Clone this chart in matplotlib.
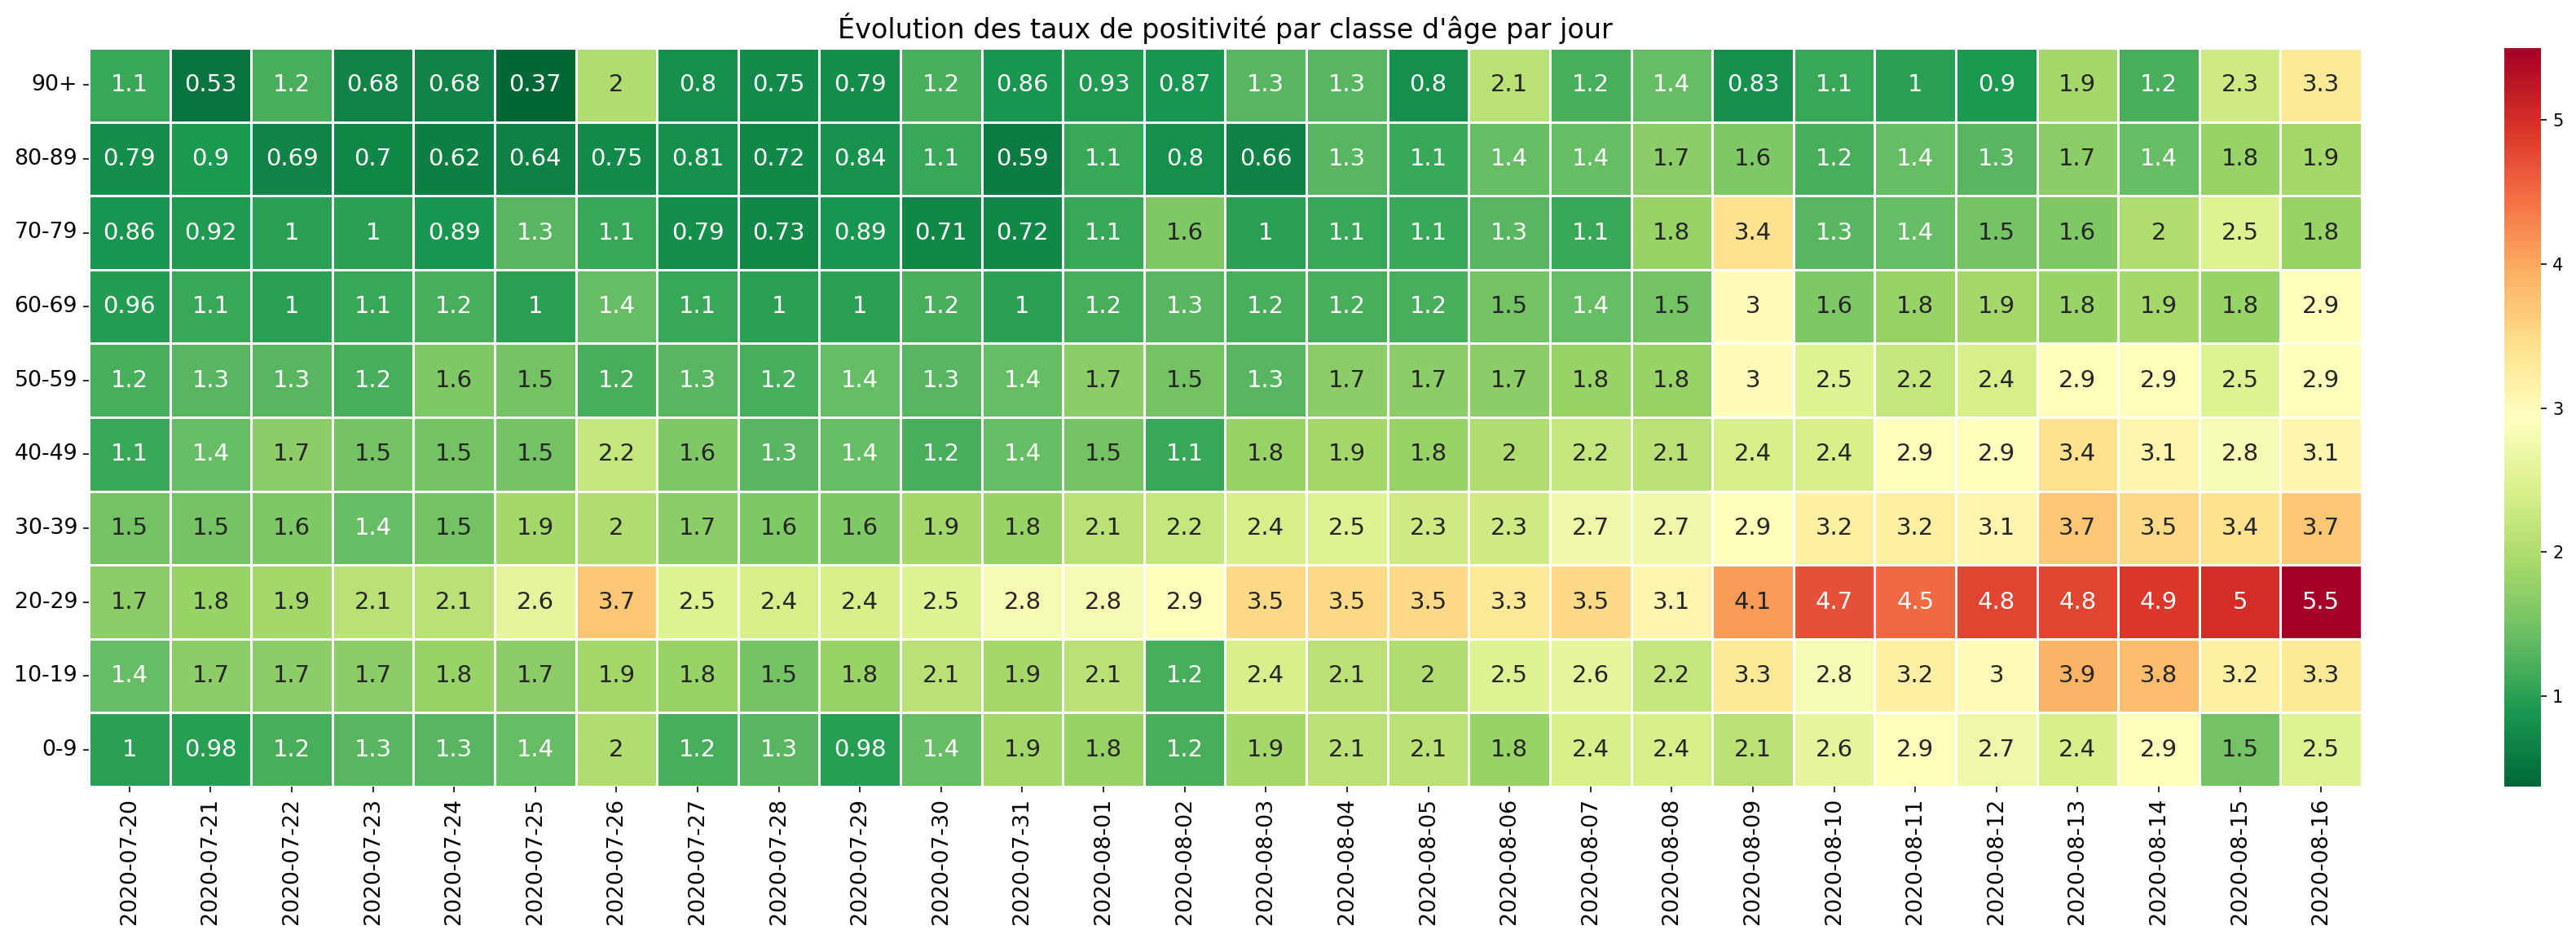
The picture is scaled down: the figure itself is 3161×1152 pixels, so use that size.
import pandas as pd
import matplotlib
matplotlib.use("Agg")
import matplotlib.pyplot as plt
import seaborn as sns

ages = ["90+", "80-89", "70-79", "60-69", "50-59", "40-49", "30-39", "20-29", "10-19", "0-9"]
dates = list(pd.date_range("2020-07-20", "2020-08-16").strftime("%Y-%m-%d"))

r90 = [1.1, 0.53, 1.2, 0.68, 0.68, 0.37, 2, 0.8, 0.75, 0.79, 1.2, 0.86, 0.93, 0.87, 1.3, 1.3, 0.8, 2.1, 1.2, 1.4, 0.83, 1.1, 1, 0.9, 1.9, 1.2, 2.3, 3.3]
r80 = [0.79, 0.9, 0.69, 0.7, 0.62, 0.64, 0.75, 0.81, 0.72, 0.84, 1.1, 0.59, 1.1, 0.8, 0.66, 1.3, 1.1, 1.4, 1.4, 1.7, 1.6, 1.2, 1.4, 1.3, 1.7, 1.4, 1.8, 1.9]
r70 = [0.86, 0.92, 1, 1, 0.89, 1.3, 1.1, 0.79, 0.73, 0.89, 0.71, 0.72, 1.1, 1.6, 1, 1.1, 1.1, 1.3, 1.1, 1.8, 3.4, 1.3, 1.4, 1.5, 1.6, 2, 2.5, 1.8]
r60 = [0.96, 1.1, 1, 1.1, 1.2, 1, 1.4, 1.1, 1, 1, 1.2, 1, 1.2, 1.3, 1.2, 1.2, 1.2, 1.5, 1.4, 1.5, 3, 1.6, 1.8, 1.9, 1.8, 1.9, 1.8, 2.9]
r50 = [1.2, 1.3, 1.3, 1.2, 1.6, 1.5, 1.2, 1.3, 1.2, 1.4, 1.3, 1.4, 1.7, 1.5, 1.3, 1.7, 1.7, 1.7, 1.8, 1.8, 3, 2.5, 2.2, 2.4, 2.9, 2.9, 2.5, 2.9]
r40 = [1.1, 1.4, 1.7, 1.5, 1.5, 1.5, 2.2, 1.6, 1.3, 1.4, 1.2, 1.4, 1.5, 1.1, 1.8, 1.9, 1.8, 2, 2.2, 2.1, 2.4, 2.4, 2.9, 2.9, 3.4, 3.1, 2.8, 3.1]
r30 = [1.5, 1.5, 1.6, 1.4, 1.5, 1.9, 2, 1.7, 1.6, 1.6, 1.9, 1.8, 2.1, 2.2, 2.4, 2.5, 2.3, 2.3, 2.7, 2.7, 2.9, 3.2, 3.2, 3.1, 3.7, 3.5, 3.4, 3.7]
r20 = [1.7, 1.8, 1.9, 2.1, 2.1, 2.6, 3.7, 2.5, 2.4, 2.4, 2.5, 2.8, 2.8, 2.9, 3.5, 3.5, 3.5, 3.3, 3.5, 3.1, 4.1, 4.7, 4.5, 4.8, 4.8, 4.9, 5, 5.5]
r10 = [1.4, 1.7, 1.7, 1.7, 1.8, 1.7, 1.9, 1.8, 1.5, 1.8, 2.1, 1.9, 2.1, 1.2, 2.4, 2.1, 2, 2.5, 2.6, 2.2, 3.3, 2.8, 3.2, 3, 3.9, 3.8, 3.2, 3.3]
r0 = [1, 0.98, 1.2, 1.3, 1.3, 1.4, 2, 1.2, 1.3, 0.98, 1.4, 1.9, 1.8, 1.2, 1.9, 2.1, 2.1, 1.8, 2.4, 2.4, 2.1, 2.6, 2.9, 2.7, 2.4, 2.9, 1.5, 2.5]

df = pd.DataFrame([r90, r80, r70, r60, r50, r40, r30, r20, r10, r0], index=ages, columns=dates)

W, H = 3161, 1152
fig = plt.figure(figsize=(W / 144, H / 144), dpi=144)
# pixel boxes
ax = fig.add_axes([109 / W, 1 - 965 / H, (2898 - 109) / W, (965 - 59) / H])
cax = fig.add_axes([3073 / W, 1 - 965 / H, 45 / W, (965 - 59) / H])

sns.heatmap(df, annot=True, cmap="RdYlGn_r", linewidths=1.5, linecolor="white",
            annot_kws={"fontsize": 14.5}, ax=ax, cbar_ax=cax)
ax.set_title("Évolution des taux de positivité par classe d'âge par jour", fontsize=16.7)
ax.tick_params(axis="x", labelsize=13.4, rotation=90)
ax.tick_params(axis="y", labelsize=13.4, rotation=0)
cax.tick_params(labelsize=10.5)
plt.savefig("out.png", dpi=144)
